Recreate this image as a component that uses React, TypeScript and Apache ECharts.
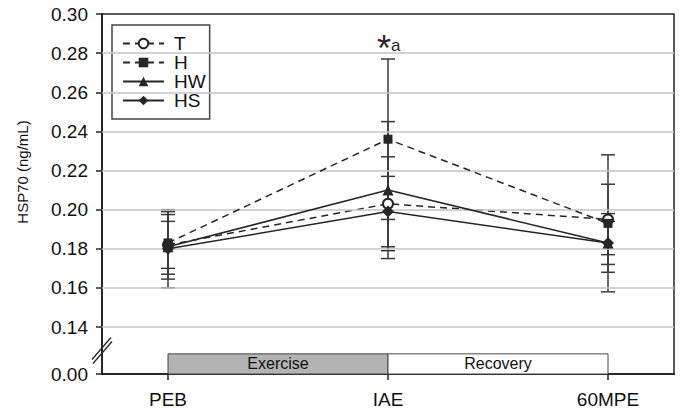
import React, { useEffect, useRef } from "react";
import * as echarts from "echarts";

const categories = ["PEB", "IAE", "60MPE"];
const xPos = [0, 1, 2];
const seriesNames = ["T", "H", "HW", "HS"];
const tValues = [0.182, 0.203, 0.195];
const hValues = [0.183, 0.236, 0.193];
const hwValues = [0.181, 0.21, 0.183];
const hsValues = [0.18, 0.199, 0.183];
const tErrors = [0.012, 0.024, 0.018];
const hErrors = [0.016, 0.041, 0.035];
const hwErrors = [0.0165, 0.035, 0.015];
const hsErrors = [0.02, 0.018, 0.011];
const yTicks = [0.14, 0.16, 0.18, 0.2, 0.22, 0.24, 0.26, 0.28, 0.3];
const gridTicks = [0.14, 0.16, 0.18, 0.2, 0.22, 0.24, 0.26, 0.28];
const brokenZeroLabel = "0.00";
const phaseNames = ["Exercise", "Recovery"];
const phaseStart = [0, 1];
const phaseEnd = [1, 2];
const phaseColors = ["#b3b3b3", "#ffffff"];
const annotationStar = "*";
const annotationLetter = "a";
const annotationX = 1;

const FONT = "'Liberation Sans', Arial, sans-serif";
const INK = "#262626";
const Y_MIN = 0.116;
const Y_MAX = 0.3;
const X_MIN = -0.3;
const X_MAX = 2.3;
const PHASE_H = 0.0103;

export default function App() {
  const ref = useRef<HTMLDivElement>(null);
  useEffect(() => {
    if (!ref.current) return;
    document.body.style.margin = "0";
    const chart = echarts.init(ref.current, undefined, { renderer: "svg" });
    const values = [tValues, hValues, hwValues, hsValues];
    const errors = [tErrors, hErrors, hwErrors, hsErrors];
    const symbols = ["emptyCircle", "rect", "triangle", "diamond"];
    const sizes = [10, 9, 11, 12];
    const dashes: any[] = [[7, 5], [7, 5], "solid", "solid"];
    const errData: number[][] = [];
    values.forEach((vals, s) => {
      vals.forEach((v, i) => {
        errData.push([xPos[i], v - errors[s][i], v + errors[s][i]]);
      });
    });
    const topOfH = hValues[annotationX] + hErrors[annotationX];

    const lineSeries = seriesNames.map((name, s) => ({
      name,
      type: "line",
      data: xPos.map((x, i) => [x, values[s][i]]),
      symbol: symbols[s],
      symbolSize: sizes[s],
      showSymbol: true,
      z: 4 + s,
      lineStyle: { color: INK, width: 1.5, type: dashes[s] },
      itemStyle: { color: INK, borderColor: INK, borderWidth: s === 0 ? 1.5 : 0 },
      emphasis: { disabled: true },
    }));

    const option: any = {
      animation: false,
      textStyle: { fontFamily: FONT },
      grid: {
        left: 102,
        right: 7,
        top: 14,
        bottom: 37,
        show: true,
        borderColor: INK,
        borderWidth: 1.5,
        backgroundColor: "transparent",
      },
      legend: {
        data: seriesNames,
        orient: "vertical",
        left: 112,
        top: 25,
        itemWidth: 41,
        itemHeight: 12,
        itemGap: 0,
        padding: [9, 4, 9, 10],
        borderColor: "#444",
        borderWidth: 1.5,
        backgroundColor: "#fff",
        textStyle: { fontSize: 19, lineHeight: 18.7, color: "#111", fontFamily: FONT, padding: [0, 0, 0, 5] },
      },
      xAxis: {
        type: "value",
        min: X_MIN,
        max: X_MAX,
        splitLine: { show: false },
        axisLine: { show: true, onZero: false, lineStyle: { color: INK, width: 2 } },
        axisTick: { show: true, customValues: xPos, length: 6, lineStyle: { color: INK, width: 1.5 } },
        axisLabel: {
          customValues: xPos,
          formatter: (v: number) => categories[Math.round(v)] ?? "",
          fontSize: 19,
          color: "#111",
          margin: 16,
          fontFamily: FONT,
        },
      },
      yAxis: {
        type: "value",
        min: Y_MIN,
        max: Y_MAX,
        splitLine: { show: false },
        axisLine: { show: true, onZero: false, lineStyle: { color: INK, width: 2 } },
        axisTick: { show: true, customValues: [Y_MIN, ...yTicks], length: 6, lineStyle: { color: INK, width: 1.5 } },
        axisLabel: {
          customValues: [Y_MIN, ...yTicks],
          formatter: (v: number) => (Math.abs(v - Y_MIN) < 1e-6 ? brokenZeroLabel : v.toFixed(2)),
          fontSize: 19,
          color: "#111",
          margin: 14,
          fontFamily: FONT,
        },
      },
      series: [
        {
          name: "__frame",
          type: "line",
          data: [],
          silent: true,
          z: 1,
          markLine: {
            silent: true,
            symbol: "none",
            label: { show: false },
            lineStyle: { color: "#c4c4c4", width: 1.5, type: "solid" },
            data: gridTicks.map((v) => ({ yAxis: v })),
          },
          markArea: {
            silent: true,
            data: phaseNames.map((name, i) => [
              {
                name,
                xAxis: phaseStart[i],
                yAxis: Y_MIN,
                itemStyle: { color: phaseColors[i], borderColor: "#444", borderWidth: 1 },
              },
              { xAxis: phaseEnd[i], yAxis: Y_MIN + PHASE_H },
            ]),
            label: {
              show: true,
              position: "inside",
              color: "#111",
              fontSize: 16,
              fontFamily: FONT,
            },
          },
        },
        {
          name: "__errors",
          type: "custom",
          data: errData,
          z: 3,
          silent: true,
          encode: { x: 0, y: [1, 2] },
          renderItem: (params: any, api: any) => {
            const x = api.value(0);
            const lo = api.coord([x, api.value(1)]);
            const hi = api.coord([x, api.value(2)]);
            const w = 7;
            const st = { stroke: "#3a3a3a", lineWidth: 1.5 };
            return {
              type: "group",
              children: [
                { type: "line", shape: { x1: lo[0], y1: lo[1], x2: hi[0], y2: hi[1] }, style: st },
                { type: "line", shape: { x1: lo[0] - w, y1: lo[1], x2: lo[0] + w, y2: lo[1] }, style: st },
                { type: "line", shape: { x1: hi[0] - w, y1: hi[1], x2: hi[0] + w, y2: hi[1] }, style: st },
              ],
            };
          },
        },
        ...lineSeries,
      ],
    };
    chart.setOption(option);

    const [ax, ay] = chart.convertToPixel({ gridIndex: 0 } as any, [X_MIN, (Y_MIN + yTicks[0]) / 2]) as number[];
    const [px, py] = chart.convertToPixel({ gridIndex: 0 } as any, [annotationX, topOfH]) as number[];
    const brk = { stroke: INK, lineWidth: 1.3 };
    chart.setOption({
      graphic: [
        {
          type: "text",
          x: 22,
          y: 172,
          rotation: Math.PI / 2,
          style: {
            text: "HSP70 (ng/mL)",
            font: `15px ${FONT}`,
            fill: "#111",
            textAlign: "center",
            textVerticalAlign: "middle",
          },
        },
        {
          type: "text",
          x: px - 4,
          y: py - 29,
          z: 100,
          style: {
            text: annotationStar,
            font: `36px ${FONT}`,
            fill: INK,
            textAlign: "center",
            textVerticalAlign: "top",
          },
        },
        {
          type: "text",
          x: px + 3,
          y: py - 5,
          z: 100,
          style: {
            text: annotationLetter,
            font: `17px ${FONT}`,
            fill: INK,
            textAlign: "left",
            textVerticalAlign: "bottom",
          },
        },
        { type: "line", z: 100, shape: { x1: ax - 10, y1: ay + 9, x2: ax + 9, y2: ay - 13 }, style: brk },
        { type: "line", z: 100, shape: { x1: ax - 9, y1: ay + 13, x2: ax + 10, y2: ay - 9 }, style: brk },
      ],
    });

    return () => chart.dispose();
  }, []);
  return <div ref={ref} style={{ width: 681, height: 411 }} />;
}
